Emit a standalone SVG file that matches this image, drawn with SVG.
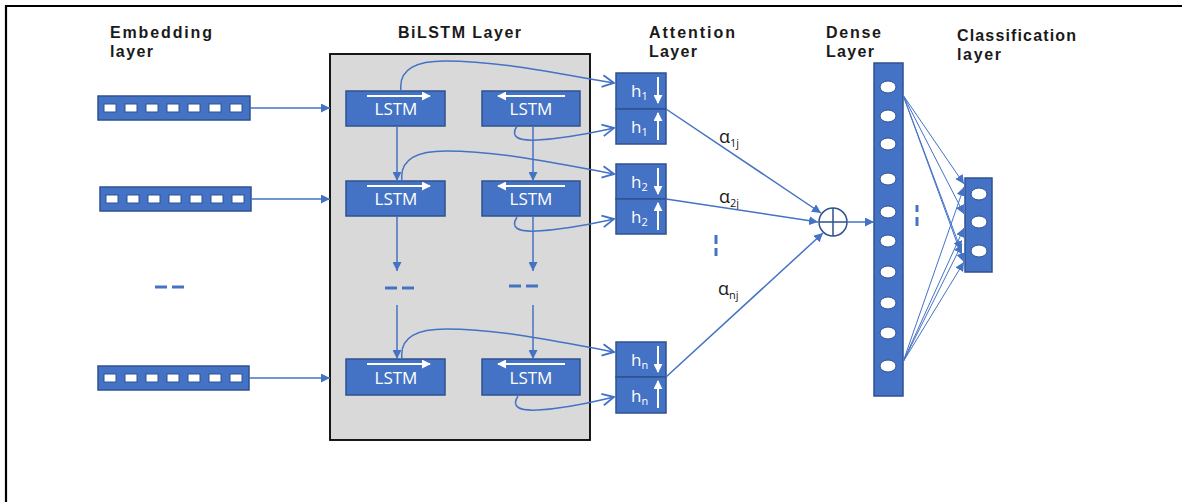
<svg xmlns="http://www.w3.org/2000/svg" width="1182" height="502" viewBox="0 0 1182 502">
<defs>
<marker id="fa" viewBox="0 0 10 10" refX="10" refY="5" markerWidth="9" markerHeight="9" markerUnits="userSpaceOnUse" orient="auto"><path d="M0,0 L10,5 L0,10 z" fill="#4472c4"/></marker>
<marker id="oa" viewBox="0 0 12 12" refX="11" refY="6" markerWidth="14" markerHeight="14" markerUnits="userSpaceOnUse" orient="auto"><path d="M1,1 L11,6 L1,11" fill="none" stroke="#4472c4" stroke-width="1.6"/></marker>
<marker id="wa" viewBox="0 0 10 10" refX="9" refY="5" markerWidth="9" markerHeight="9" markerUnits="userSpaceOnUse" orient="auto"><path d="M0,0 L10,5 L0,10 z" fill="#ffffff"/></marker>
<style>
.t{font-family:"Liberation Sans",Arial,sans-serif;font-weight:bold;font-size:16px;fill:#1a1a1a}
.box{fill:#4472c4;stroke:#2f528f;stroke-width:1.5}
.sq{fill:#ffffff;stroke:#2f528f;stroke-width:1}
.lt{font-family:"Open Sans","Liberation Sans",sans-serif;font-size:17px;fill:#ffffff}
.hl{font-family:"Open Sans","Liberation Sans",sans-serif;font-size:17px;fill:#ffffff}
.al{font-family:"Open Sans","Liberation Sans",sans-serif;font-size:18px;fill:#1a1a1a}
.wl{stroke:#ffffff;stroke-width:2;fill:none}
.c{stroke:#4472c4;stroke-width:1.5;fill:none}
.cf{stroke:#4472c4;stroke-width:1;fill:none}
.dash{stroke:#4472c4;stroke-width:3}
.el{fill:#ffffff;stroke:#2f528f;stroke-width:1}
</style>
</defs>
<rect width="1182" height="502" fill="#ffffff"/>
<path d="M6,502 L6,6 L1182,6" fill="none" stroke="#000000" stroke-width="2.2"/>

<g id="titles">
<text class="t" x="110" y="38" textLength="102" lengthAdjust="spacing">Embedding</text>
<text class="t" x="110" y="57" textLength="43" lengthAdjust="spacing">layer</text>
<text class="t" x="398" y="38" textLength="123" lengthAdjust="spacing">BiLSTM Layer</text>
<text class="t" x="649" y="38" textLength="86" lengthAdjust="spacing">Attention</text>
<text class="t" x="649" y="57" textLength="48" lengthAdjust="spacing">Layer</text>
<text class="t" x="826" y="38" textLength="55" lengthAdjust="spacing">Dense</text>
<text class="t" x="826" y="57" textLength="48" lengthAdjust="spacing">Layer</text>
<text class="t" x="957" y="41" textLength="119" lengthAdjust="spacing">Classification</text>
<text class="t" x="957" y="60" textLength="44" lengthAdjust="spacing">layer</text>
</g>

<g id="bilstm-box"><rect x="330" y="54" width="260" height="386" fill="#d9d9d9" stroke="#000000" stroke-width="1.8"/></g>

<g id="emb1">
<rect class="box" x="98" y="96" width="152" height="24"/>
<rect class="sq" x="104" y="104" width="12" height="8"/><rect class="sq" x="125" y="104" width="12" height="8"/><rect class="sq" x="146" y="104" width="12" height="8"/><rect class="sq" x="167" y="104" width="12" height="8"/><rect class="sq" x="188" y="104" width="12" height="8"/><rect class="sq" x="209" y="104" width="12" height="8"/><rect class="sq" x="230" y="104" width="12" height="8"/>
</g>
<g id="emb2">
<rect class="box" x="100" y="187" width="151" height="24"/>
<rect class="sq" x="106" y="195" width="12" height="8"/><rect class="sq" x="127" y="195" width="12" height="8"/><rect class="sq" x="148" y="195" width="12" height="8"/><rect class="sq" x="169" y="195" width="12" height="8"/><rect class="sq" x="190" y="195" width="12" height="8"/><rect class="sq" x="211" y="195" width="12" height="8"/><rect class="sq" x="232" y="195" width="12" height="8"/>
</g>
<g id="emb3">
<rect class="box" x="98" y="366" width="151" height="24"/>
<rect class="sq" x="104" y="374" width="12" height="8"/><rect class="sq" x="125" y="374" width="12" height="8"/><rect class="sq" x="146" y="374" width="12" height="8"/><rect class="sq" x="167" y="374" width="12" height="8"/><rect class="sq" x="188" y="374" width="12" height="8"/><rect class="sq" x="209" y="374" width="12" height="8"/><rect class="sq" x="230" y="374" width="12" height="8"/>
</g>

<g id="lstm-f1"><rect class="box" x="346" y="91" width="99" height="35"/><line class="wl" x1="367" y1="96" x2="430" y2="96" marker-end="url(#wa)"/><text class="lt" x="396" y="115" text-anchor="middle">LSTM</text></g>
<g id="lstm-b1"><rect class="box" x="482" y="91" width="98" height="35"/><line class="wl" x1="565" y1="96" x2="498" y2="96" marker-end="url(#wa)"/><text class="lt" x="531" y="115" text-anchor="middle">LSTM</text></g>
<g id="lstm-f2"><rect class="box" x="346" y="181" width="99" height="35"/><line class="wl" x1="367" y1="186" x2="430" y2="186" marker-end="url(#wa)"/><text class="lt" x="396" y="205" text-anchor="middle">LSTM</text></g>
<g id="lstm-b2"><rect class="box" x="482" y="181" width="98" height="35"/><line class="wl" x1="565" y1="186" x2="498" y2="186" marker-end="url(#wa)"/><text class="lt" x="531" y="205" text-anchor="middle">LSTM</text></g>
<g id="lstm-f3"><rect class="box" x="346" y="359" width="99" height="36"/><line class="wl" x1="367" y1="364" x2="430" y2="364" marker-end="url(#wa)"/><text class="lt" x="396" y="384" text-anchor="middle">LSTM</text></g>
<g id="lstm-b3"><rect class="box" x="482" y="359" width="98" height="36"/><line class="wl" x1="565" y1="364" x2="498" y2="364" marker-end="url(#wa)"/><text class="lt" x="531" y="384" text-anchor="middle">LSTM</text></g>

<g id="att1">
<rect class="box" x="616" y="73" width="50" height="36"/><rect class="box" x="616" y="109" width="50" height="35"/>
<text class="hl" x="631" y="97">h<tspan font-size="11" dy="3">1</tspan></text>
<text class="hl" x="631" y="133">h<tspan font-size="11" dy="3">1</tspan></text>
<line class="wl" x1="658" y1="77" x2="658" y2="103" marker-end="url(#wa)"/>
<line class="wl" x1="658" y1="140" x2="658" y2="113" marker-end="url(#wa)"/>
</g>
<g id="att2">
<rect class="box" x="616" y="164" width="50" height="35"/><rect class="box" x="616" y="199" width="50" height="35"/>
<text class="hl" x="631" y="188">h<tspan font-size="11" dy="3">2</tspan></text>
<text class="hl" x="631" y="223">h<tspan font-size="11" dy="3">2</tspan></text>
<line class="wl" x1="658" y1="168" x2="658" y2="194" marker-end="url(#wa)"/>
<line class="wl" x1="658" y1="230" x2="658" y2="203" marker-end="url(#wa)"/>
</g>
<g id="attn">
<rect class="box" x="616" y="342" width="50" height="35"/><rect class="box" x="616" y="377" width="50" height="36"/>
<text class="hl" x="631" y="366">h<tspan font-size="11" dy="3">n</tspan></text>
<text class="hl" x="631" y="402">h<tspan font-size="11" dy="3">n</tspan></text>
<line class="wl" x1="658" y1="346" x2="658" y2="372" marker-end="url(#wa)"/>
<line class="wl" x1="658" y1="408" x2="658" y2="381" marker-end="url(#wa)"/>
</g>

<g id="sum"><circle cx="833" cy="222" r="14" fill="#ffffff" stroke="#2f528f" stroke-width="1.5"/><path d="M819,222 H847 M833,208 V236" stroke="#2f528f" stroke-width="1.5"/></g>

<g id="dense">
<rect class="box" x="874" y="63" width="29" height="333"/>
<ellipse class="el" cx="888" cy="87" rx="8" ry="6"/><ellipse class="el" cx="888" cy="116" rx="8" ry="6"/><ellipse class="el" cx="888" cy="144" rx="8" ry="6"/><ellipse class="el" cx="888" cy="179" rx="8" ry="6"/><ellipse class="el" cx="888" cy="212" rx="8" ry="6"/><ellipse class="el" cx="888" cy="241" rx="8" ry="6"/><ellipse class="el" cx="888" cy="272" rx="8" ry="6"/><ellipse class="el" cx="888" cy="303" rx="8" ry="6"/><ellipse class="el" cx="888" cy="333" rx="8" ry="6"/><ellipse class="el" cx="888" cy="366" rx="8" ry="6"/>
</g>
<g id="classification">
<rect class="box" x="965" y="178" width="27" height="94"/>
<ellipse class="el" cx="979" cy="194" rx="8" ry="6"/><ellipse class="el" cx="979" cy="222" rx="8" ry="6"/><ellipse class="el" cx="979" cy="251" rx="8" ry="6"/>
</g>

<g id="labels">
<text class="al" x="719" y="143">α<tspan font-size="11" dy="4">1j</tspan></text>
<text class="al" x="719" y="203">α<tspan font-size="11" dy="4">2j</tspan></text>
<text class="al" x="718" y="295">α<tspan font-size="11" dy="4">nj</tspan></text>
</g>

<g id="connectors">
<line class="c" x1="250" y1="108" x2="330" y2="108" marker-end="url(#fa)"/>
<line class="c" x1="251" y1="199" x2="330" y2="199" marker-end="url(#fa)"/>
<line class="c" x1="249" y1="378" x2="330" y2="378" marker-end="url(#fa)"/>
<line class="dash" x1="155" y1="287" x2="167" y2="287"/><line class="dash" x1="172" y1="287" x2="184" y2="287"/>

<line class="c" x1="397" y1="126" x2="397" y2="181" marker-end="url(#fa)"/>
<line class="c" x1="533" y1="126" x2="533" y2="181" marker-end="url(#fa)"/>
<line class="c" x1="397" y1="216" x2="397" y2="271" marker-end="url(#fa)"/>
<line class="c" x1="533" y1="216" x2="533" y2="271" marker-end="url(#fa)"/>
<line class="dash" x1="385" y1="288" x2="397" y2="288"/><line class="dash" x1="402" y1="288" x2="414" y2="288"/>
<line class="dash" x1="509" y1="286" x2="521" y2="286"/><line class="dash" x1="526" y1="286" x2="538" y2="286"/>
<line class="c" x1="397" y1="305" x2="397" y2="359" marker-end="url(#fa)"/>
<line class="c" x1="533" y1="305" x2="533" y2="359" marker-end="url(#fa)"/>

<path class="c" d="M401,91 C398,68 418,61 445,61 C500,61 560,74 614,83" marker-end="url(#oa)"/>
<path class="c" d="M517,126 C510,137 518,141 537,140 C570,138 595,132 614,128" marker-end="url(#oa)"/>
<path class="c" d="M402,181 C399,158 419,151 446,151 C500,151 560,164 614,174" marker-end="url(#oa)"/>
<path class="c" d="M517,217 C510,228 518,232 537,231 C570,229 595,223 614,219" marker-end="url(#oa)"/>
<path class="c" d="M402,359 C399,336 419,329 446,329 C500,329 560,342 614,352" marker-end="url(#oa)"/>
<path class="c" d="M518,396 C511,407 519,411 538,410 C571,408 596,401 614,397" marker-end="url(#oa)"/>

<line class="c" x1="666" y1="109" x2="821" y2="213" marker-end="url(#fa)"/>
<line class="c" x1="666" y1="199" x2="818" y2="222" marker-end="url(#fa)"/>
<line class="c" x1="666" y1="377" x2="823" y2="233" marker-end="url(#fa)"/>
<line class="dash" x1="716" y1="235" x2="716" y2="244"/><line class="dash" x1="716" y1="248" x2="716" y2="256"/>
<line class="c" x1="847" y1="222" x2="874" y2="222" marker-end="url(#fa)"/>
<line class="dash" x1="917" y1="205" x2="917" y2="212"/><line class="dash" x1="917" y1="217" x2="917" y2="226"/>

<line class="cf" x1="903" y1="95" x2="964" y2="184" marker-end="url(#fa)"/>
<line class="cf" x1="903" y1="95" x2="964" y2="214" marker-end="url(#fa)"/>
<line class="cf" x1="903" y1="95" x2="961" y2="250" marker-end="url(#fa)"/>
<line class="cf" x1="903" y1="95" x2="964" y2="262" marker-end="url(#fa)"/>
<line class="cf" x1="903" y1="362" x2="964" y2="187" marker-end="url(#fa)"/>
<line class="cf" x1="903" y1="362" x2="964" y2="228" marker-end="url(#fa)"/>
<line class="cf" x1="903" y1="362" x2="962" y2="244" marker-end="url(#fa)"/>
<line class="cf" x1="903" y1="362" x2="964" y2="262" marker-end="url(#fa)"/>
</g>
</svg>
